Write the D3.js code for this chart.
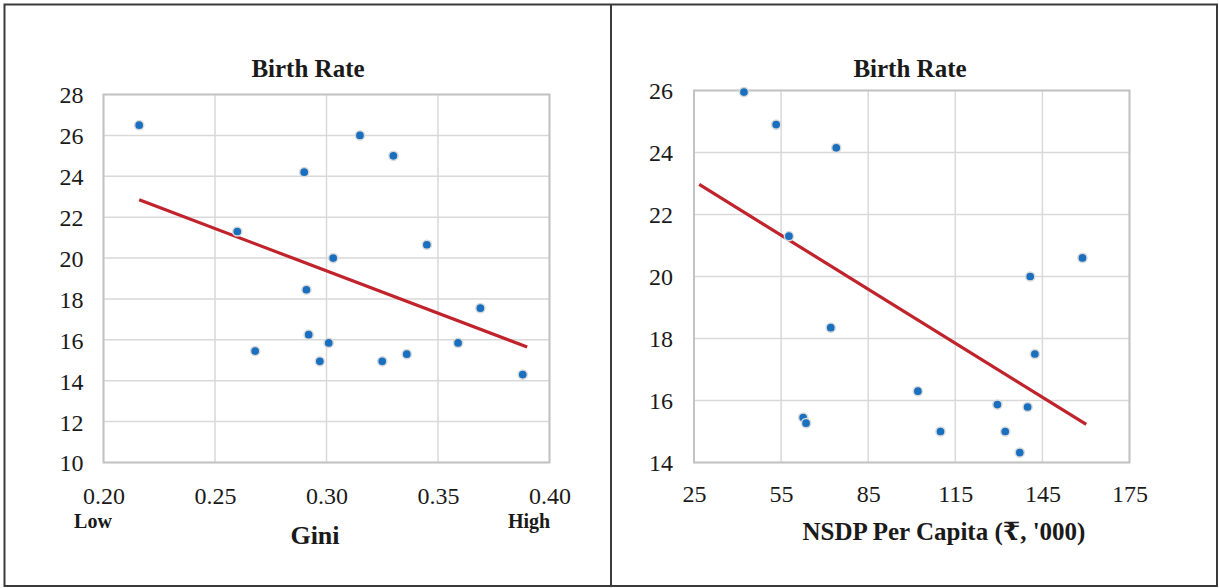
<!DOCTYPE html>
<html>
<head>
<meta charset="utf-8">
<script src="https://cdn.jsdelivr.net/npm/d3@7"></script>
<style>
html,body{margin:0;padding:0;background:#fff;}
svg{display:block;}
</style>
</head>
<body>
<svg id="chart" width="1219" height="588"></svg>
<script>
// ---- Data ----
const giniX = [0.216,0.315,0.330,0.290,0.260,0.345,0.303,0.291,0.369,0.292,0.301,0.359,0.268,0.336,0.297,0.325,0.388];
const giniBirth = [26.5,26.0,25.0,24.2,21.3,20.65,20.0,18.45,17.55,16.25,15.85,15.85,15.45,15.3,14.95,14.95,14.3];
const giniTrendX = [0.216,0.390];
const giniTrendY = [22.85,15.65];
const giniTicksX = [0.20,0.25,0.30,0.35,0.40];
const giniTicksY = [10,12,14,16,18,20,22,24,26,28];

const nsdpX = [42.2,53.3,74.0,57.7,140.8,158.8,72.1,142.4,102.1,129.5,139.9,62.6,63.6,109.9,132.2,137.2];
const nsdpBirth = [25.95,24.9,24.15,21.3,20.0,20.6,18.35,17.5,16.3,15.87,15.79,15.45,15.27,15.0,15.0,14.32];
const nsdpTrendX = [26.8,160.1];
const nsdpTrendY = [22.97,15.23];
const nsdpTicksX = [25,55,85,115,145,175];
const nsdpTicksY = [14,16,18,20,22,24,26];

const FONT = '"Liberation Serif", "DejaVu Serif", serif';
const svg = d3.select("#chart");

// outer frame and divider
svg.append("rect").attr("x",4.5).attr("y",4.5).attr("width",1212.5).attr("height",581.5)
  .attr("fill","none").attr("stroke","#3a3a3a").attr("stroke-width",2);
svg.append("line").attr("x1",611).attr("x2",611).attr("y1",4.5).attr("y2",586)
  .attr("stroke","#3a3a3a").attr("stroke-width",2);

function panel(cfg){
  const x = d3.scaleLinear().domain(cfg.xDomain).range([cfg.left, cfg.right]);
  const y = d3.scaleLinear().domain(cfg.yDomain).range([cfg.bottom, cfg.top]);
  const g = svg.append("g");

  // gridlines
  g.append("g").selectAll("line").data(cfg.ticksY).join("line")
    .attr("x1",cfg.left).attr("x2",cfg.right)
    .attr("y1",d=>y(d)).attr("y2",d=>y(d))
    .attr("stroke","#d9d9d9").attr("stroke-width",1.5);
  g.append("g").selectAll("line").data(cfg.ticksX).join("line")
    .attr("y1",cfg.top).attr("y2",cfg.bottom)
    .attr("x1",d=>x(d)).attr("x2",d=>x(d))
    .attr("stroke","#d9d9d9").attr("stroke-width",1.5);
  // plot border
  g.append("rect").attr("x",cfg.left).attr("y",cfg.top)
    .attr("width",cfg.right-cfg.left).attr("height",cfg.bottom-cfg.top)
    .attr("fill","none").attr("stroke","#c3c3c3").attr("stroke-width",2);

  // axes
  const yAxis = d3.axisLeft(y).tickValues(cfg.ticksY).tickSize(0).tickPadding(0)
    .tickFormat(d3.format("d"));
  const ya = g.append("g").attr("transform",`translate(${cfg.left-cfg.yLabelGap},0)`).call(yAxis);
  ya.attr("font-family",null).attr("font-size",null);
  ya.select(".domain").remove();
  ya.selectAll("text").style("font-family",FONT).style("font-size","24px")
    .attr("fill","#1a1a1a").attr("dy","0.35em");

  const xAxis = d3.axisBottom(x).tickValues(cfg.ticksX).tickSize(0).tickPadding(0)
    .tickFormat(cfg.xFormat);
  const xa = g.append("g").attr("transform",`translate(0,${cfg.xLabelBase})`).call(xAxis);
  xa.attr("font-family",null).attr("font-size",null);
  xa.select(".domain").remove();
  xa.selectAll("text").style("font-family",FONT).style("font-size","24px")
    .attr("fill","#1a1a1a").attr("dy",0).attr("y",0);

  // trend line
  const trend = cfg.trendX.map((v,i)=>[v,cfg.trendY[i]]);
  g.append("path").datum(trend)
    .attr("d", d3.line().x(d=>x(d[0])).y(d=>y(d[1])))
    .attr("fill","none").attr("stroke","#c0232b").attr("stroke-width",3.2);

  // points
  const pts = cfg.px.map((v,i)=>[v,cfg.py[i]]);
  g.append("g").selectAll("circle").data(pts).join("circle")
    .attr("cx",d=>x(d[0])).attr("cy",d=>y(d[1])).attr("r",4.6)
    .attr("fill","#1b6fbf").attr("stroke","#dadada").attr("stroke-width",1.5);

  // title
  g.append("text").attr("x",cfg.titleX).attr("y",77).attr("text-anchor","middle")
    .style("font-family",FONT).style("font-weight","bold").style("font-size","25px")
    .attr("fill","#1a1a1a").text("Birth Rate");
  // x title
  g.append("text").attr("x",cfg.xTitleX).attr("y",cfg.xTitleY).attr("text-anchor","middle")
    .style("font-family",FONT).style("font-weight","bold").style("font-size",cfg.xTitleSize+"px")
    .attr("fill","#1a1a1a").text(cfg.xTitle);
  return {x,y,g};
}

const p1 = panel({
  left:103.5, right:549.5, top:94.5, bottom:462.5,
  xDomain:[0.20,0.40], yDomain:[10,28],
  ticksX:giniTicksX, ticksY:giniTicksY,
  px:giniX, py:giniBirth, trendX:giniTrendX, trendY:giniTrendY,
  xFormat:d3.format(".2f"), yLabelGap:20, xLabelBase:504,
  titleX:308, xTitle:"Gini", xTitleX:315, xTitleY:544, xTitleSize:26
});
p1.g.append("text").attr("x",93).attr("y",528).attr("text-anchor","middle")
  .style("font-family",FONT).style("font-weight","bold").style("font-size","20px")
  .attr("fill","#1a1a1a").text("Low");
p1.g.append("text").attr("x",529).attr("y",528).attr("text-anchor","middle")
  .style("font-family",FONT).style("font-weight","bold").style("font-size","20px")
  .attr("fill","#1a1a1a").text("High");

const p2 = panel({
  left:694, right:1129.5, top:90.5, bottom:462.5,
  xDomain:[25,175], yDomain:[14,26],
  ticksX:nsdpTicksX, ticksY:nsdpTicksY,
  px:nsdpX, py:nsdpBirth, trendX:nsdpTrendX, trendY:nsdpTrendY,
  xFormat:d3.format("d"), yLabelGap:21, xLabelBase:502,
  titleX:910, xTitle:"NSDP Per Capita (₹, '000)", xTitleX:944, xTitleY:540, xTitleSize:25
});
</script>
</body>
</html>
